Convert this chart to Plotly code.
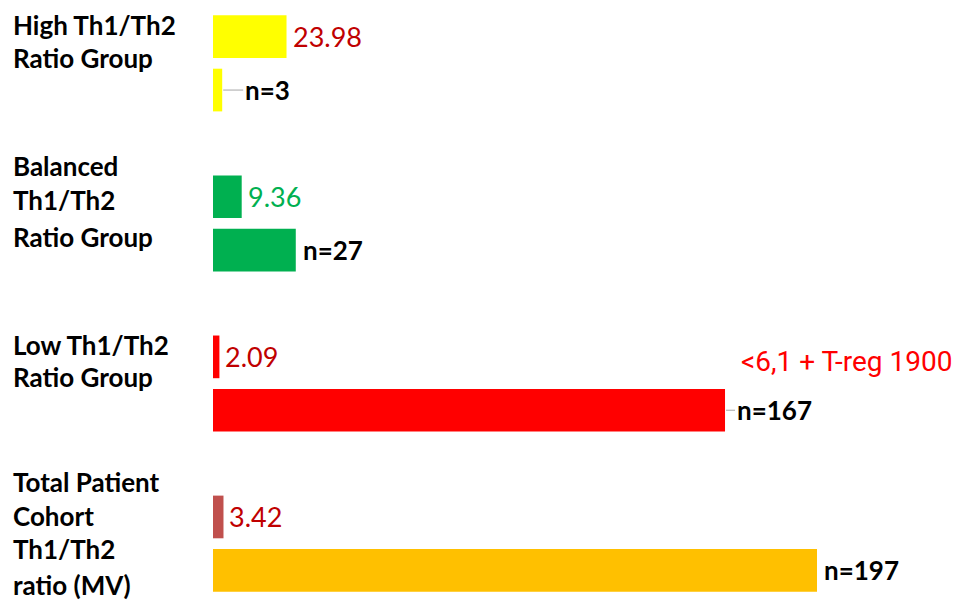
import plotly.graph_objects as go

# ---------------- data ----------------
groups = ["High Th1/Th2 Ratio Group", "Balanced Th1/Th2 Ratio Group",
          "Low Th1/Th2 Ratio Group", "Total Patient Cohort Th1/Th2 ratio (MV)"]
group_label_lines = [["High Th1/Th2", "Ratio Group"],
                     ["Balanced", "Th1/Th2", "Ratio Group"],
                     ["Low Th1/Th2", "Ratio Group"],
                     ["Total Patient", "Cohort", "Th1/Th2", "ratio (MV)"]]
ratio_values = [23.98, 9.36, 2.09, 3.42]
n_values = [3, 27, 167, 197]
ratio_labels = ["23.98", "9.36", "2.09", "3.42"]
n_labels = ["n=3", "n=27", "n=167", "n=197"]
note_text = "<6,1 + T-reg 1900"

# ---------------- styles ----------------
ratio_colors = ["#FFFF00", "#00B050", "#FF0000", "#C0504D"]
n_colors = ["#FFFF00", "#00B050", "#FF0000", "#FFC000"]
ratio_text_colors = ["#C00000", "#00B050", "#C00000", "#C00000"]
n_leader = [True, False, True, False]

W, H = 957, 604
M_L, M_R, M_T, M_B = 213, 0, 10, 7
plot_w = W - M_L - M_R
plot_h = H - M_T - M_B
px_per_unit = 604 / 197.0
x_max = plot_w / px_per_unit

# slot positions: ratio bar, n bar, gap per group
ratio_pos = [3 * i for i in range(len(groups))]
n_pos = [3 * i + 1 for i in range(len(groups))]

fig = go.Figure()
fig.add_trace(go.Bar(x=ratio_values, y=ratio_pos, orientation="h",
                     marker=dict(color=ratio_colors, line=dict(width=0)),
                     width=0.8, hoverinfo="x"))
fig.add_trace(go.Bar(x=n_values, y=n_pos, orientation="h",
                     marker=dict(color=n_colors, line=dict(width=0)),
                     width=0.8, hoverinfo="x"))

LABEL_FONT = "Lato"
annotations = []
for i in range(len(groups)):
    annotations.append(dict(x=ratio_values[i], y=ratio_pos[i], xref="x", yref="y",
                            text=ratio_labels[i], showarrow=False, xanchor="left",
                            yanchor="middle", xshift=4,
                            font=dict(family=LABEL_FONT, size=27, color=ratio_text_colors[i])))
    if n_leader[i]:
        annotations.append(dict(x=n_values[i], y=n_pos[i], xref="x", yref="y",
                                text="<b>" + n_labels[i] + "</b>", showarrow=True,
                                arrowhead=0, arrowwidth=1, arrowcolor="#A6A6A6",
                                ax=10 if n_values[i] > 100 else 21, ay=0,
                                xanchor="left", yanchor="middle", standoff=1,
                                font=dict(family=LABEL_FONT, size=26, color="#000000")))
    else:
        annotations.append(dict(x=n_values[i], y=n_pos[i], xref="x", yref="y",
                                text="<b>" + n_labels[i] + "</b>", showarrow=False,
                                xanchor="left", yanchor="middle", xshift=5,
                                font=dict(family=LABEL_FONT, size=26, color="#000000")))

# group label line centres in pixels, converted to paper coords
label_px = [[25, 58], [166, 200, 236.5], [345, 376.5], [481.7, 515.5, 549, 585]]
for lines, pys in zip(group_label_lines, label_px):
    for line, py in zip(lines, pys):
        annotations.append(dict(x=(11 - M_L) / plot_w, y=1 - (py - M_T) / plot_h,
                                xref="paper", yref="paper", text="<b>" + line + "</b>",
                                showarrow=False, xanchor="left", yanchor="middle",
                                font=dict(family=LABEL_FONT, size=26, color="#000000")))

annotations.append(dict(x=(954 - M_L) / plot_w, y=1 - (361 - M_T) / plot_h,
                        xref="paper", yref="paper", text=note_text, showarrow=False,
                        xanchor="right", yanchor="middle",
                        font=dict(family="Roboto", size=28, color="#FF0000")))

fig.update_layout(
    width=W, height=H,
    margin=dict(l=M_L, r=M_R, t=M_T, b=M_B),
    paper_bgcolor="white", plot_bgcolor="white",
    showlegend=False, barmode="overlay",
    xaxis=dict(range=[0, x_max], visible=False),
    yaxis=dict(range=[10.5, -0.5], visible=False),
    annotations=annotations,
)

fig.write_html("out.html", config={"displayModeBar": False},
               post_script="document.body.style.margin='0px';document.body.style.overflow='hidden';")
